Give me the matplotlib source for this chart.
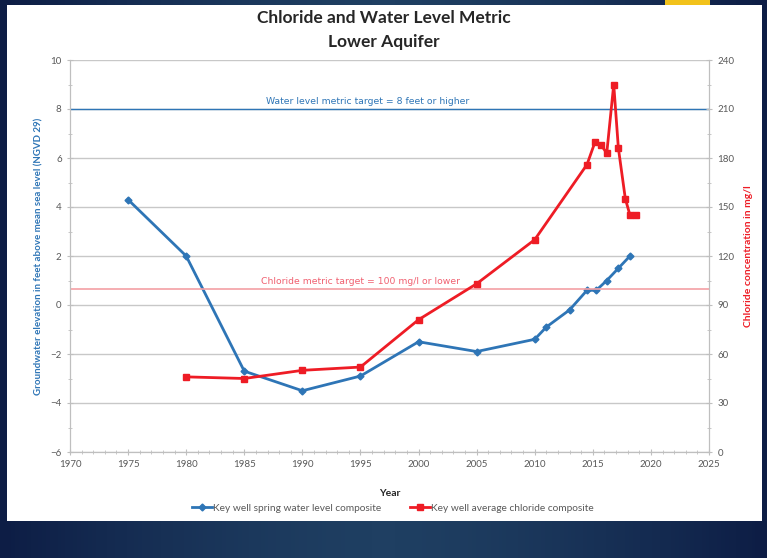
import matplotlib
matplotlib.use("Agg")
import numpy as np
import matplotlib.pyplot as plt
from matplotlib.patches import Rectangle
from matplotlib.ticker import MultipleLocator
from matplotlib.colors import LinearSegmentedColormap

# water level composite (left axis, feet)
wl_years = [1975, 1980, 1985, 1990, 1995, 2000, 2005, 2010, 2011, 2013, 2014.5, 2015.3, 2016.2, 2017.2, 2018.2]
wl_values = [4.3, 2.0, -2.7, -3.5, -2.9, -1.5, -1.9, -1.4, -0.9, -0.2, 0.6, 0.6, 1.0, 1.5, 2.0]

# chloride composite (right axis, mg/l)
cl_years = [1980, 1985, 1990, 1995, 2000, 2005, 2010, 2014.5, 2015.2, 2015.7, 2016.2, 2016.8, 2017.2, 2017.8, 2018.2, 2018.7]
cl_values = [46, 45, 50, 52, 81, 103, 130, 176, 190, 188, 183, 225, 186, 155, 145, 145]

wl_target = 8
cl_target = 100

BLUE = "#2e75b6"
RED = "#ee1c25"
GRAY = "#595959"

plt.rcParams['font.family'] = ['Lato', 'DejaVu Sans']

fig = plt.figure(figsize=(7.67, 5.58), dpi=100, facecolor="#13294b")
W, H = 767, 558

# slide background: dark navy with a lighter band in the middle
bg = fig.add_axes([0, 0, 1, 1], zorder=-20)
bg.axis("off")
xx = np.linspace(-1, 1, 200)
grad = np.tile(1 - np.abs(xx) ** 1.5, (10, 1))
cmap = LinearSegmentedColormap.from_list("slide", ["#0d1d45", "#1f3f62"])
bg.imshow(grad, aspect="auto", cmap=cmap, extent=[0, 1, 0, 1])

# white slide panel and yellow accent
fig.patches.append(Rectangle((7 / W, 1 - 521 / H), 755 / W, 516 / H, transform=fig.transFigure,
                             facecolor="white", edgecolor="none", zorder=-10))
fig.patches.append(Rectangle((665 / W, 1 - 5 / H), 45 / W, 5 / H, transform=fig.transFigure,
                             facecolor="#f2c21b", edgecolor="none", zorder=-10))

ax = fig.add_axes([70 / W, 1 - 452 / H, 639 / W, 392 / H])
ax.set_facecolor("white")
ax2 = ax.twinx()

ax.set_xlim(1970, 2025)
ax.set_ylim(-6, 10)
ax2.set_ylim(0, 240)

ax.xaxis.set_major_locator(MultipleLocator(5))
ax.xaxis.set_minor_locator(MultipleLocator(1))
ax.yaxis.set_major_locator(MultipleLocator(2))
ax.yaxis.set_minor_locator(MultipleLocator(1))
ax2.yaxis.set_major_locator(MultipleLocator(30))
ax2.yaxis.set_minor_locator(MultipleLocator(15))

ax.grid(axis="y", which="major", color="#c8c8c8", linewidth=1)
ax.set_axisbelow(True)

for a in (ax, ax2):
    for s in a.spines.values():
        s.set_color("#bfbfbf")
    a.spines["top"].set_visible(False)
    a.tick_params(which="both", colors="#bfbfbf", labelcolor=GRAY, labelsize=7, direction="inout")
    a.tick_params(which="major", length=5)
    a.tick_params(which="minor", length=3)

ax.axhline(wl_target, color=BLUE, linewidth=1, zorder=1)
ax2.axhline(cl_target, color="#f4a0a4", linewidth=1.2, zorder=1)
ax.text(1995.6, wl_target + 0.12, "Water level metric target = 8 feet or higher",
        color=BLUE, fontsize=6.7, ha="center", va="bottom", family="DejaVu Sans")
ax2.text(1995.0, cl_target + 1.5, "Chloride metric target = 100 mg/l or lower",
         color="#f06070", fontsize=6.7, ha="center", va="bottom", family="DejaVu Sans")

l1, = ax.plot(wl_years, wl_values, color=BLUE, linewidth=2, marker="D", markersize=3.5,
              label="Key well spring water level composite", zorder=3)
l2, = ax2.plot(cl_years, cl_values, color=RED, linewidth=2, marker="s", markersize=5,
               label="Key well average chloride composite", zorder=3)

ax.set_xlabel("Year", fontsize=7.5, fontweight="bold", color="#262626", labelpad=14)
ax.set_ylabel("Groundwater elevation in feet above mean sea level (NGVD 29)",
              fontsize=7, fontweight="bold", color=BLUE, labelpad=5)
ax2.set_ylabel("Chloride concentration in mg/l", fontsize=7.5, fontweight="bold",
               color=RED, labelpad=7)

fig.text(0.5, 1 - 18 / H, "Chloride and Water Level Metric", ha="center", va="center",
         fontsize=12.5, fontweight="bold", color="#262626")
fig.text(0.5, 1 - 42 / H, "Lower Aquifer", ha="center", va="center",
         fontsize=12.5, fontweight="bold", color="#262626")

fig.legend(handles=[l1, l2], loc="center", bbox_to_anchor=(393 / W, 1 - 508 / H), ncol=2,
           frameon=False, fontsize=7.3, labelcolor=GRAY, handlelength=2.0,
           handletextpad=0.1, columnspacing=2.8)

fig.savefig("out.png", dpi=100, facecolor=fig.get_facecolor())
